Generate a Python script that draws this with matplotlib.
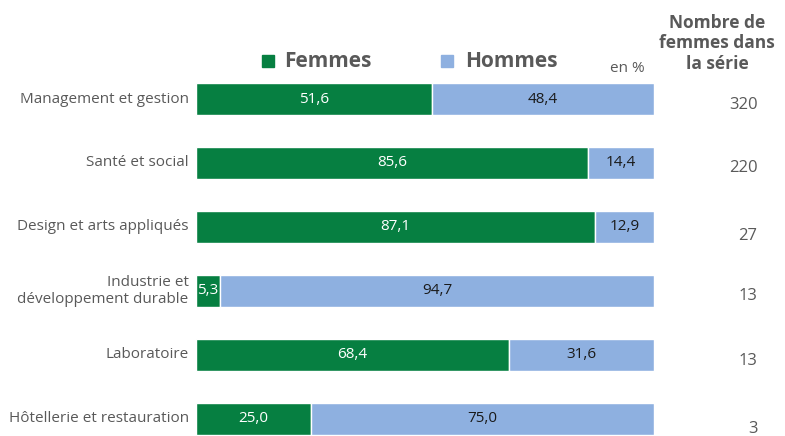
import matplotlib.pyplot as plt

plt.rcParams['font.family'] = ['Open Sans', 'DejaVu Sans']

categories = ['Management et gestion', 'Santé et social', 'Design et arts appliqués',
              'Industrie et\ndéveloppement durable', 'Laboratoire', 'Hôtellerie et restauration']
femmes = [51.6, 85.6, 87.1, 5.3, 68.4, 25.0]
hommes = [48.4, 14.4, 12.9, 94.7, 31.6, 75.0]
nb_femmes = ['320', '220', '27', '13', '13', '3']

green = '#067F41'
blue = '#8EB0E0'
grey = '#595959'

fig = plt.figure(figsize=(7.85, 4.36), dpi=100)
ax = fig.add_axes([196 / 785, 0, 458 / 785, 1])

ypos = list(range(len(categories)))
ax.barh(ypos, femmes, height=0.5, color=green, edgecolor='white', linewidth=1)
ax.barh(ypos, hommes, left=femmes, height=0.5, color=blue, edgecolor='white', linewidth=1)

for y, f, h in zip(ypos, femmes, hommes):
    lf = f'{f:.1f}'.replace('.', ',')
    lh = f'{h:.1f}'.replace('.', ',')
    ax.text(max(f / 2, 2.6), y, lf, color='white', fontsize=11, ha='center', va='center')
    ax.text(f + h / 2, y, lh, color='#1a1a1a', fontsize=11, ha='center', va='center')
    ax.text(-1.6, y, categories[y], color=grey, fontsize=11, ha='right', va='center',
            linespacing=1.25)

# the counts column sits a bit lower than the bars, more so further down
offsets = [0.1, 0.08, 0.14, 0.08, 0.1, 0.16]
for y, n, d in zip(ypos, nb_femmes, offsets):
    ax.text(122.6, y + d, n, color=grey, fontsize=12, ha='right', va='center')

ax.set_xlim(0, 100)
ax.set_ylim(5.266, -1.547)
ax.axis('off')

# legend
ax.add_patch(plt.Rectangle((14.4, -0.69), 2.6, 0.19, color=green, clip_on=False))
ax.text(19.2, -0.58, 'Femmes', color=grey, fontsize=15, fontweight='bold', va='center')
ax.add_patch(plt.Rectangle((53.5, -0.69), 2.6, 0.19, color=blue, clip_on=False))
ax.text(58.7, -0.58, 'Hommes', color=grey, fontsize=15, fontweight='bold', va='center')
ax.text(90.3, -0.48, 'en %', color=grey, fontsize=11, va='center')

ax.text(113.8, -0.87, 'Nombre de\nfemmes dans\nla série', color=grey, fontsize=12.5,
        fontweight='bold', ha='center', va='center', linespacing=1.2)

fig.savefig('out.png', dpi=100)
